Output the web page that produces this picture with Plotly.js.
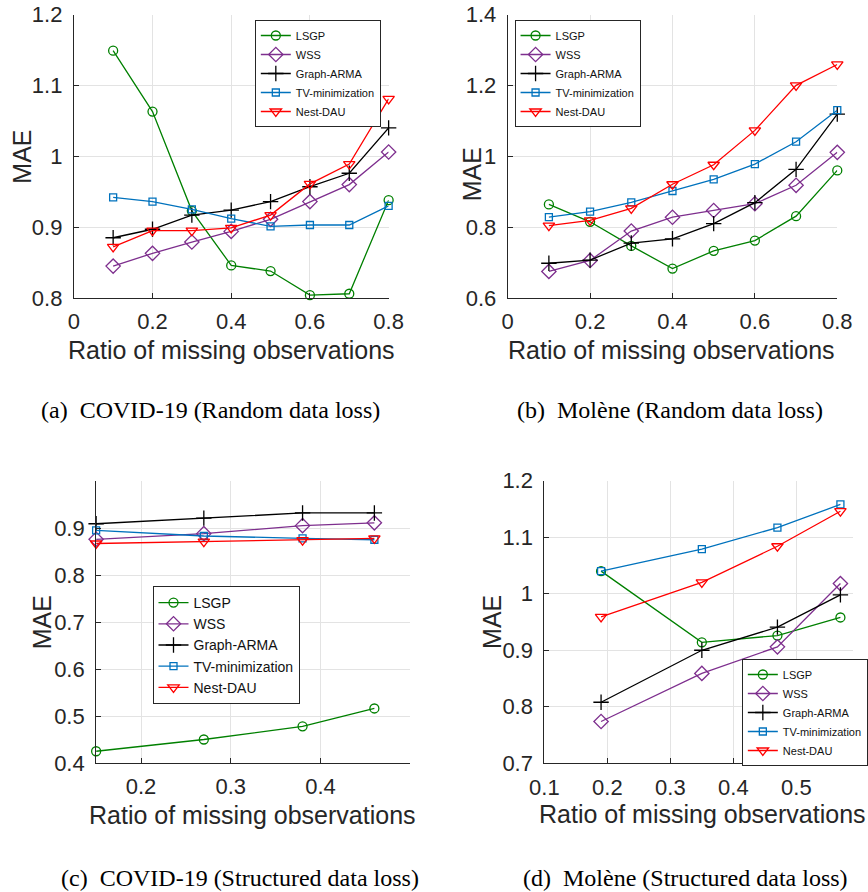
<!DOCTYPE html>
<html>
<head>
<meta charset="utf-8">
<script src="https://cdn.plot.ly/plotly-3.0.1.min.js"></script>
<style>html,body{margin:0;padding:0;background:#fff;}#chart{width:868px;height:892px;}</style>
</head>
<body>
<div id="chart"></div>
<script>
// ---------- data ----------
const seriesNames = ["LSGP", "WSS", "Graph-ARMA", "TV-minimization", "Nest-DAU"];

// (a) COVID-19, random data loss
const xA = [0.1, 0.2, 0.3, 0.4, 0.5, 0.6, 0.7, 0.8];
const lsgpA = [1.149, 1.063, 0.923, 0.846, 0.838, 0.804, 0.806, 0.938];
const wssA  = [0.845, 0.863, 0.879, 0.894, 0.911, 0.936, 0.960, 1.006];
const armaA = [0.885, 0.897, 0.917, 0.924, 0.936, 0.957, 0.976, 1.040];
const tvA   = [0.942, 0.936, 0.925, 0.912, 0.901, 0.903, 0.903, 0.930];
const nestA = [0.872, 0.895, 0.895, 0.899, 0.917, 0.961, 0.989, 1.081];

// (b) Molène, random data loss
const xB = [0.1, 0.2, 0.3, 0.4, 0.5, 0.6, 0.7, 0.8];
const lsgpB = [0.864, 0.815, 0.747, 0.683, 0.733, 0.762, 0.831, 0.960];
const wssB  = [0.675, 0.706, 0.789, 0.828, 0.847, 0.866, 0.918, 1.011];
const armaB = [0.698, 0.707, 0.755, 0.767, 0.810, 0.869, 0.963, 1.119];
const tvB   = [0.828, 0.844, 0.870, 0.902, 0.935, 0.978, 1.041, 1.130];
const nestB = [0.804, 0.819, 0.853, 0.921, 0.976, 1.073, 1.200, 1.259];

// (c) COVID-19, structured data loss
const xC = [0.15, 0.27, 0.38, 0.46];
const lsgpC = [0.425, 0.450, 0.478, 0.516];
const wssC  = [0.876, 0.888, 0.905, 0.911];
const armaC = [0.909, 0.921, 0.932, 0.932];
const tvC   = [0.895, 0.883, 0.878, 0.875];
const nestC = [0.867, 0.871, 0.874, 0.878];

// (d) Molène, structured data loss
const xD = [0.19, 0.35, 0.47, 0.57];
const lsgpD = [1.040, 0.914, 0.926, 0.958];
const wssD  = [0.774, 0.859, 0.906, 1.018];
const armaD = [0.808, 0.900, 0.941, 0.998];
const tvD   = [1.040, 1.079, 1.117, 1.158];
const nestD = [0.959, 1.020, 1.084, 1.146];

// tick labels
const xTicksAB = [0, 0.2, 0.4, 0.6, 0.8];
const yTicksA = [0.8, 0.9, 1, 1.1, 1.2];
const yTicksB = [0.6, 0.8, 1, 1.2, 1.4];
const xTicksC = [0.2, 0.3, 0.4, 0.5];
const xTickTextC = ["0.2", "0.3", "0.4", ""];
const yTicksC = [0.4, 0.5, 0.6, 0.7, 0.8, 0.9];
const xTicksD = [0.1, 0.2, 0.3, 0.4, 0.5];
const yTicksD = [0.7, 0.8, 0.9, 1, 1.1, 1.2];

const captions = [
  "(a)\u00a0\u00a0COVID-19 (Random data loss)",
  "(b)\u00a0\u00a0Molène (Random data loss)",
  "(c)\u00a0\u00a0COVID-19 (Structured data loss)",
  "(d)\u00a0\u00a0Molène (Structured data loss)"
];
const xTitle = "Ratio of missing observations";
const yTitle = "MAE";

// ---------- styles ----------
const W = 868, H = 892;
const px = v => v / W;
const py = v => 1 - v / H;
const styles = [
  {color: "#008000", symbol: "circle-open", size: 9},
  {color: "#7E2F8E", symbol: "diamond-open", size: 11},
  {color: "#000000", symbol: "cross-thin-open", size: 11},
  {color: "#0072BD", symbol: "square-open", size: 7},
  {color: "#FF0000", symbol: "triangle-down-open", size: 10}
];
const panels = [
  {x: xA, ys: [lsgpA, wssA, armaA, tvA, nestA]},
  {x: xB, ys: [lsgpB, wssB, armaB, tvB, nestB]},
  {x: xC, ys: [lsgpC, wssC, armaC, tvC, nestC]},
  {x: xD, ys: [lsgpD, wssD, armaD, tvD, nestD]}
];

const traces = [];
panels.forEach((p, i) => {
  const sfx = i === 0 ? "" : String(i + 1);
  p.ys.forEach((y, k) => {
    const s = styles[k];
    traces.push({
      type: "scatter", mode: "lines+markers",
      x: p.x, y: y, name: seriesNames[k],
      xaxis: "x" + sfx, yaxis: "y" + sfx,
      legend: "legend" + sfx,
      cliponaxis: false,
      line: {color: s.color, width: 1.3},
      marker: {symbol: s.symbol, size: s.size, color: s.color,
               line: {color: s.color, width: 1.3}}
    });
  });
});

const axisCol = "#262626";
const gridCol = "#e3e3e3";
function xax(domPx, range, tickvals, ticktext, anchor) {
  const a = {
    domain: [px(domPx[0]), px(domPx[1])], range: range, anchor: anchor,
    tickmode: "array", tickvals: tickvals,
    showline: true, linecolor: axisCol, linewidth: 1, mirror: false,
    ticks: "inside", ticklen: 5, tickcolor: axisCol, tickwidth: 1,
    showgrid: true, gridcolor: gridCol, gridwidth: 1, zeroline: false,
    tickfont: {family: "Liberation Sans, Arial, sans-serif", size: 22, color: axisCol},
    ticklabelstandoff: 4, fixedrange: true
  };
  if (ticktext) a.ticktext = ticktext;
  return a;
}
function yax(domPx, range, tickvals, anchor) {
  return {
    domain: [py(domPx[1]), py(domPx[0])], range: range, anchor: anchor,
    tickmode: "array", tickvals: tickvals,
    showline: true, linecolor: axisCol, linewidth: 1, mirror: false,
    ticks: "inside", ticklen: 5, tickcolor: axisCol, tickwidth: 1,
    showgrid: true, gridcolor: gridCol, gridwidth: 1, zeroline: false,
    tickfont: {family: "Liberation Sans, Arial, sans-serif", size: 22, color: axisCol},
    ticklabelstandoff: 6, fixedrange: true
  };
}
function leg(xPx, yPx, fs, yanchor) {
  return {
    x: px(xPx), y: py(yPx), xanchor: "left", yanchor: yanchor || "top",
    bgcolor: "#ffffff", bordercolor: axisCol, borderwidth: 1,
    font: {family: "Liberation Sans, Arial, sans-serif", size: fs, color: "#111"},
    itemwidth: 30, tracegroupgap: 0
  };
}

const annFont = {family: "Liberation Sans, Arial, sans-serif", size: 25, color: axisCol};
const capFont = {family: "Liberation Serif, Times New Roman, serif", size: 24, color: "#000"};
const annotations = [];
// x-axis titles
[[235, 350], [683, 350], [257, 815], [714, 814]].forEach(p => annotations.push({
  xref: "paper", yref: "paper", x: px(p[0]), y: py(p[1]), xanchor: "center", yanchor: "middle",
  text: xTitle, showarrow: false, font: annFont
}));
// y-axis titles
[[22, 157], [480, 174], [43, 622], [500, 622]].forEach(p => annotations.push({
  xref: "paper", yref: "paper", x: px(p[0]), y: py(p[1]), xanchor: "center", yanchor: "middle",
  text: yTitle, textangle: -90, showarrow: false, font: annFont
}));
// captions
[[214, 410], [681, 410], [244, 878], [697, 878]].forEach((p, i) => annotations.push({
  xref: "paper", yref: "paper", x: px(p[0]), y: py(p[1]), xanchor: "center", yanchor: "middle",
  text: captions[i], showarrow: false, font: capFont
}));

const layout = {
  width: W, height: H,
  margin: {l: 0, r: 0, t: 0, b: 0},
  paper_bgcolor: "#ffffff", plot_bgcolor: "#ffffff",
  showlegend: true,
  xaxis:  xax([75, 395], [0, 0.8], xTicksAB, null, "y"),
  yaxis:  yax([14.5, 298], [0.8, 1.2], yTicksA, "x"),
  xaxis2: xax([516, 851], [0, 0.8], xTicksAB, null, "y2"),
  yaxis2: yax([14.5, 298], [0.6, 1.4], yTicksB, "x2"),
  xaxis3: xax([97.7, 417], [0.15, 0.5], xTicksC, xTickTextC, "y3"),
  yaxis3: yax([481, 763], [0.4, 1.0], yTicksC, "x3"),
  xaxis4: xax([553.3, 867], [0.1, 0.59], xTicksD, null, "y4"),
  yaxis4: yax([480.7, 763.3], [0.7, 1.2], yTicksD, "x4"),
  legend:  leg(259, 20, 11),
  legend2: leg(523, 20, 11),
  legend3: leg(155, 586, 14),
  legend4: leg(754, 766, 11, "bottom"),
  annotations: annotations
};

Plotly.newPlot("chart", traces, layout, {displayModeBar: false, staticPlot: true});
</script>
</body>
</html>
